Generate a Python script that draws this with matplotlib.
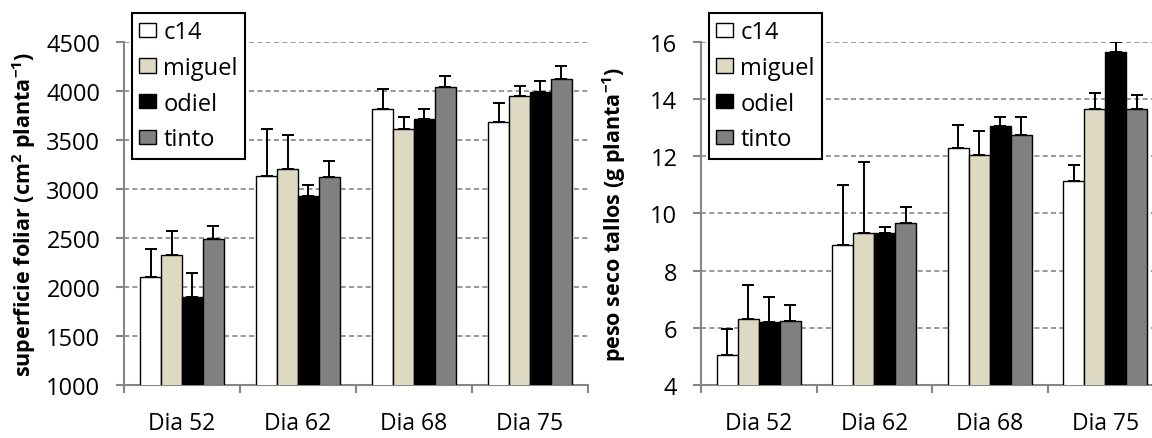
import numpy as np
import matplotlib
matplotlib.use('Agg')
import matplotlib.pyplot as plt

# datos
dias = ['Dia 52', 'Dia 62', 'Dia 68', 'Dia 75']
variedades = ['c14', 'miguel', 'odiel', 'tinto']
colores = ['#ffffff', '#ddd9c3', '#000000', '#808080']

# superficie foliar (cm2 planta-1): media y error (solo hacia arriba)
sup_c14 = [2100, 3135, 3810, 3685]
sup_miguel = [2325, 3200, 3605, 3950]
sup_odiel = [1895, 2925, 3710, 3985]
sup_tinto = [2490, 3120, 4035, 4115]
sup_err_c14 = [285, 475, 205, 185]
sup_err_miguel = [245, 350, 125, 100]
sup_err_odiel = [245, 110, 100, 115]
sup_err_tinto = [135, 160, 120, 140]

# peso seco tallos (g planta-1)
peso_c14 = [5.05, 8.9, 12.3, 11.12]
peso_miguel = [6.3, 9.3, 12.03, 13.65]
peso_odiel = [6.2, 9.33, 13.04, 15.63]
peso_tinto = [6.25, 9.66, 12.74, 13.65]
peso_err_c14 = [0.9, 2.1, 0.78, 0.57]
peso_err_miguel = [1.2, 2.5, 0.84, 0.54]
peso_err_odiel = [0.87, 0.18, 0.32, 0.37]
peso_err_tinto = [0.55, 0.55, 0.62, 0.49]

plt.rcParams['font.family'] = ['Open Sans', 'DejaVu Sans']
plt.rcParams['mathtext.fontset'] = 'custom'
plt.rcParams['mathtext.rm'] = 'Open Sans'
plt.rcParams['mathtext.bf'] = 'Open Sans:bold'

gris = '#868686'
fs = 17

fig = plt.figure(figsize=(11.52, 4.39), dpi=100)
ax1 = fig.add_axes([124 / 1152, 53 / 439, 464 / 1152, 343.3 / 439])
ax2 = fig.add_axes([701 / 1152, 53 / 439, 462 / 1152, 343.3 / 439])


def dibujar(ax, medias, errores, yticks, ylabel, label_x):
    x = np.arange(len(dias))
    w = 0.181
    for i, (m, e) in enumerate(zip(medias, errores)):
        pos = x + (i - 1.5) * w
        ax.bar(pos, m, w, color=colores[i], edgecolor='black', linewidth=1.0,
               label=variedades[i], zorder=3)
        ax.errorbar(pos, m, yerr=[np.zeros(len(m)), e], fmt='none',
                    ecolor='black', elinewidth=1.4, capsize=4.5,
                    capthick=1.4, zorder=4)
    ax.set_xlim(-0.5, 3.5)
    ax.set_ylim(yticks[0], yticks[-1])
    ax.set_yticks(yticks)
    ax.set_xticks(x)
    ax.set_xticklabels(dias, fontsize=16.5)
    ax.set_xticks(np.arange(-0.5, 3.6, 1), minor=True)
    ax.tick_params(axis='x', which='major', length=0, pad=19)
    ax.tick_params(axis='x', which='minor', length=6, width=1.5, color=gris)
    ax.tick_params(axis='y', length=6, width=1.5, color=gris, pad=11,
                   labelsize=fs)
    for s in ['top', 'right']:
        ax.spines[s].set_visible(False)
    for s in ['left', 'bottom']:
        ax.spines[s].set_color(gris)
        ax.spines[s].set_linewidth(1.5)
    ax.yaxis.grid(True, color=gris, linestyle=(0, (3, 2)), linewidth=1.2,
                  zorder=0)
    ax.set_axisbelow(True)
    ax.set_ylabel(ylabel, fontsize=15.5, fontweight='bold')
    ax.yaxis.set_label_coords(label_x, 0.5)


dibujar(ax1,
        [sup_c14, sup_miguel, sup_odiel, sup_tinto],
        [sup_err_c14, sup_err_miguel, sup_err_odiel, sup_err_tinto],
        np.arange(1000, 4501, 500),
        r'superficie foliar (cm$^{\mathbf{2}}$ planta$^{\mathbf{-1}}$)',
        -0.185)
dibujar(ax2,
        [peso_c14, peso_miguel, peso_odiel, peso_tinto],
        [peso_err_c14, peso_err_miguel, peso_err_odiel, peso_err_tinto],
        np.arange(4, 17, 2),
        r'peso seco tallos (g planta$^{\mathbf{-1}}$)',
        -0.158)

for ax, x0 in [(ax1, 132), (ax2, 709)]:
    leg = ax.legend(loc='upper left', bbox_to_anchor=(x0 / 1152, 1 - 14 / 439),
                    bbox_transform=fig.transFigure, fontsize=fs,
                    frameon=True, fancybox=False, framealpha=1,
                    edgecolor='black', borderpad=0.3, labelspacing=0.5,
                    handlelength=0.72, handleheight=0.55, handletextpad=0.3,
                    borderaxespad=0)
    leg.get_frame().set_linewidth(1.5)
    leg.set_zorder(10)

plt.savefig('out.png', dpi=100)
